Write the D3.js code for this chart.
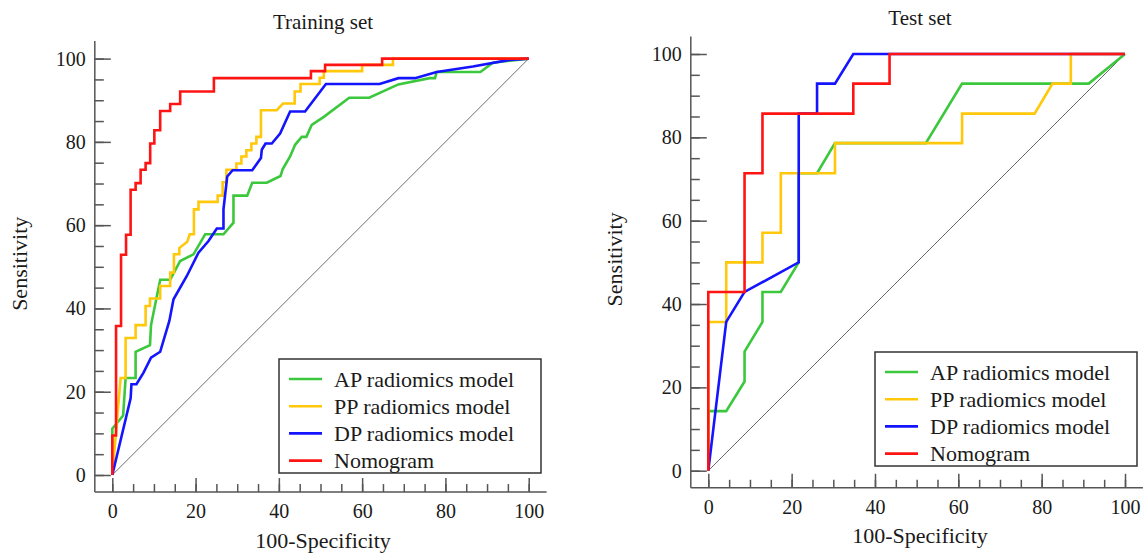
<!DOCTYPE html>
<html>
<head>
<meta charset="utf-8">
<script src="https://cdn.jsdelivr.net/npm/d3@7"></script>
<style>
  body { margin: 0; background: #fff; }
  svg text { font-family: "Liberation Serif", "Times New Roman", Times, "DejaVu Serif", serif !important; fill: #1a1a1a; }
</style>
</head>
<body>
<div id="chart"></div>
<script>
var width = 1143;
var height = 553;

// legend / series names
var seriesNames = ["AP radiomics model", "PP radiomics model", "DP radiomics model", "Nomogram"];
var seriesColors = ["#3cc83c", "#ffc80a", "#1414ff", "#ff1414"];

// ticks
var majorTicks = [0, 20, 40, 60, 80, 100];
var minorTicks = d3.range(0, 101, 5);

// training set, 100-specificity (x) and sensitivity (y)
var apTrainX = [0, 0, 2.6, 3.2, 5.6, 5.6, 9.05, 9.3, 11.5, 13.9, 16.3, 19.5, 22.3, 26.7, 29.1, 29.1, 32.4, 33.6, 37.1, 40.4, 40.9, 42.7, 43.9, 45.5, 46.6, 47.9, 50.8, 56.9, 61.7, 68.7, 76.2, 77.5, 77.9, 88.4, 91.4, 100];
var apTrainY = [0, 11.1, 14.3, 23.3, 23.3, 29.6, 31.2, 36, 46.9, 46.9, 51.4, 53, 57.8, 57.8, 60.6, 67.1, 67.1, 70.2, 70.2, 71.8, 73.4, 76.5, 79.3, 81.2, 81.2, 84.1, 86, 90.6, 90.6, 93.8, 95.3, 95.3, 96.8, 96.8, 99, 100];

var ppTrainX = [0, 2.0, 3.2, 3.2, 5.6, 5.6, 8.0, 8.0, 9.05, 9.05, 11.5, 11.5, 13.9, 13.9, 14.8, 14.8, 16.1, 16.1, 18.0, 18.6, 19.6, 19.6, 20.7, 20.7, 25.3, 25.3, 26.5, 26.5, 27.4, 27.4, 29.8, 29.8, 31, 31, 32.2, 32.2, 33.4, 33.4, 34.6, 34.6, 35.7, 35.7, 39.5, 41, 43.8, 43.8, 45.2, 45.2, 49.8, 49.8, 50.8, 50.8, 60, 60, 67.4, 67.4, 100];
var ppTrainY = [0, 23.3, 23.3, 32.9, 32.9, 36, 36, 40.6, 40.6, 42.4, 42.4, 45.4, 45.4, 48.6, 48.6, 53, 53, 54.5, 56, 57.8, 57.8, 63.8, 63.8, 65.6, 65.6, 67.1, 67.1, 70.3, 70.3, 73.3, 73.3, 74.8, 74.8, 76.5, 76.5, 78, 78, 79.6, 79.6, 81.2, 81.2, 87.6, 87.6, 89.2, 89.2, 92.1, 92.1, 93.9, 93.9, 95.4, 95.4, 97, 97, 98.5, 98.5, 100, 100];

var dpTrainX = [0, 4.4, 4.6, 5.8, 7.5, 9.3, 11.5, 13.7, 14.7, 17.9, 20.7, 23.1, 25.1, 26.7, 26.7, 27.6, 28.9, 33.6, 35.7, 35.9, 36.8, 38.3, 40.3, 42.7, 46.3, 51.3, 64.2, 68.7, 72.7, 77.9, 86.6, 95.4, 100];
var dpTrainY = [0, 18.4, 21.8, 21.8, 24.6, 28.2, 29.6, 37, 42.2, 47.8, 53.4, 56.2, 59.2, 59.2, 63.8, 71.7, 73.2, 73.2, 76.1, 78.1, 79.6, 79.6, 82, 87.3, 87.3, 93.9, 93.9, 95.3, 95.3, 96.8, 98.1, 99.7, 100];

var nomoTrainX = [0, 0, 0.9, 0.9, 2.1, 2.1, 3.3, 3.3, 4.4, 4.4, 5.6, 5.6, 6.8, 6.8, 8.0, 8.0, 9.1, 9.1, 10.1, 10.1, 11.5, 11.5, 13.9, 13.9, 16.3, 16.3, 24.4, 24.4, 47.7, 47.7, 51.1, 51.1, 64.8, 64.8, 100];
var nomoTrainY = [0, 9.5, 9.5, 35.8, 35.8, 52.9, 52.9, 57.7, 57.7, 68.5, 68.5, 70.1, 70.1, 73.3, 73.3, 74.9, 74.9, 79.6, 79.6, 82.8, 82.8, 87.4, 87.4, 89.1, 89.1, 92.1, 92.1, 95.3, 95.3, 97, 97, 98.5, 98.5, 100, 100];

// test set
var apTestX = [0, 0, 4.3, 8.7, 8.7, 13, 13, 17.4, 21.7, 21.7, 26.1, 30.4, 52.2, 60.9, 91.3, 100];
var apTestY = [0, 14.3, 14.3, 21.4, 28.6, 35.7, 42.9, 42.9, 50, 71.4, 71.4, 78.6, 78.6, 92.9, 92.9, 100];

var ppTestX = [0, 0, 4.3, 4.3, 13, 13, 17.4, 17.4, 30.4, 30.4, 60.9, 60.9, 78.3, 82.6, 87, 87, 100];
var ppTestY = [0, 35.7, 35.7, 50, 50, 57.1, 57.1, 71.4, 71.4, 78.6, 78.6, 85.7, 85.7, 92.9, 92.9, 100, 100];

var dpTestX = [0, 4.3, 8.7, 21.7, 21.7, 26.1, 26.1, 30.4, 34.8, 100];
var dpTestY = [0, 35.7, 42.9, 50, 85.7, 85.7, 92.9, 92.9, 100, 100];

var nomoTestX = [0, 0, 8.7, 8.7, 13, 13, 34.8, 34.8, 43.5, 43.5, 100];
var nomoTestY = [0, 42.9, 42.9, 71.4, 71.4, 85.7, 85.7, 92.9, 92.9, 100, 100];

var serifFont = "'Liberation Serif', 'Times New Roman', Times, 'DejaVu Serif', serif";

var svg = d3.select("#chart")
    .append("svg")
    .attr("width", width)
    .attr("height", height)
    .attr("font-family", serifFont);

function drawPanel(p) {
    var x = d3.scaleLinear().domain([0, 100]).range(p.xRange);
    var y = d3.scaleLinear().domain([0, 100]).range(p.yRange);
    var g = svg.append("g");

    // reference diagonal
    g.append("line")
        .attr("x1", x(0)).attr("y1", y(0))
        .attr("x2", x(100)).attr("y2", y(100))
        .attr("stroke", "#6a6a6a")
        .attr("stroke-width", 1);

    // axes: minor ticks, then major ticks with labels
    var axisColor = "#555";
    var yMinor = g.append("g").attr("transform", "translate(" + x(-4.2) + ",0)")
        .call(d3.axisLeft(y).tickValues(minorTicks).tickSize(-9).tickSizeOuter(0).tickFormat(""));
    var yMajor = g.append("g").attr("transform", "translate(" + x(-4.2) + ",0)")
        .call(d3.axisLeft(y).tickValues(majorTicks).tickSize(-16).tickSizeOuter(0).tickPadding(9));
    var xMinor = g.append("g").attr("transform", "translate(0," + y(-4.1) + ")")
        .call(d3.axisBottom(x).tickValues(minorTicks).tickSize(-8).tickSizeOuter(0).tickFormat(""));
    var xMajor = g.append("g").attr("transform", "translate(0," + y(-4.1) + ")")
        .call(d3.axisBottom(x).tickValues(majorTicks).tickSize(-14).tickSizeOuter(0).tickPadding(12));
    [yMinor, yMajor, xMinor, xMajor].forEach(function(a) {
        a.attr("font-family", serifFont).attr("font-size", 20);
        a.select(".domain").remove();
        a.selectAll("line").attr("stroke", axisColor).attr("stroke-width", 1.5);
        a.selectAll("text").attr("fill", "#1a1a1a");
    });
    // axis lines
    g.append("line")
        .attr("x1", x(-4.2)).attr("y1", y(-4.1))
        .attr("x2", x(-4.2)).attr("y2", y(104.2))
        .attr("stroke", axisColor).attr("stroke-width", 1.5);
    g.append("line")
        .attr("x1", x(-4.2)).attr("y1", y(-4.1))
        .attr("x2", x(104.3)).attr("y2", y(-4.1))
        .attr("stroke", axisColor).attr("stroke-width", 1.5);

    // curves
    var line = d3.line().x(function(d) { return x(d[0]); }).y(function(d) { return y(d[1]); });
    p.series.forEach(function(s, i) {
        g.append("path")
            .datum(d3.zip(s[0], s[1]))
            .attr("d", line)
            .attr("fill", "none")
            .attr("stroke", seriesColors[i])
            .attr("stroke-width", 2.6)
            .attr("stroke-linejoin", "miter");
    });

    // titles
    g.append("text").text(p.title)
        .attr("x", p.titleX).attr("y", p.titleY)
        .attr("text-anchor", "middle")
        .attr("font-size", 21);
    g.append("text").text("100-Specificity")
        .attr("x", p.titleX).attr("y", p.xTitleY)
        .attr("text-anchor", "middle")
        .attr("font-size", 22);
    g.append("text").text("Sensitivity")
        .attr("transform", "translate(" + p.yTitleX + "," + (y(50) - 3) + ") rotate(-90)")
        .attr("text-anchor", "middle")
        .attr("dy", "0.35em")
        .attr("font-size", 22);

    // legend
    var lg = g.append("g").attr("transform", "translate(" + p.legend[0] + "," + p.legend[1] + ")");
    lg.append("rect")
        .attr("width", p.legend[2]).attr("height", p.legend[3])
        .attr("fill", "#fff")
        .attr("stroke", "#333")
        .attr("stroke-width", 1.5);
    seriesNames.forEach(function(name, i) {
        var ry = 20 + i * 27.2;
        lg.append("line")
            .attr("x1", 10).attr("x2", 43)
            .attr("y1", ry).attr("y2", ry)
            .attr("stroke", seriesColors[i])
            .attr("stroke-width", 2.6);
        lg.append("text").text(name)
            .attr("x", 55).attr("y", ry)
            .attr("dy", "0.35em")
            .attr("font-size", 22);
    });
}

drawPanel({
    xRange: [112.3, 528.7], yRange: [475, 58.6],
    title: "Training set", titleX: 323, titleY: 29, xTitleY: 548, yTitleX: 19,
    legend: [279, 359, 262, 114],
    series: [[apTrainX, apTrainY], [ppTrainX, ppTrainY], [dpTrainX, dpTrainY], [nomoTrainX, nomoTrainY]]
});

drawPanel({
    xRange: [708.3, 1125], yRange: [470.7, 54],
    title: "Test set", titleX: 920, titleY: 25, xTitleY: 543, yTitleX: 614,
    legend: [875, 352, 262, 114],
    series: [[apTestX, apTestY], [ppTestX, ppTestY], [dpTestX, dpTestY], [nomoTestX, nomoTestY]]
});
</script>
</body>
</html>
